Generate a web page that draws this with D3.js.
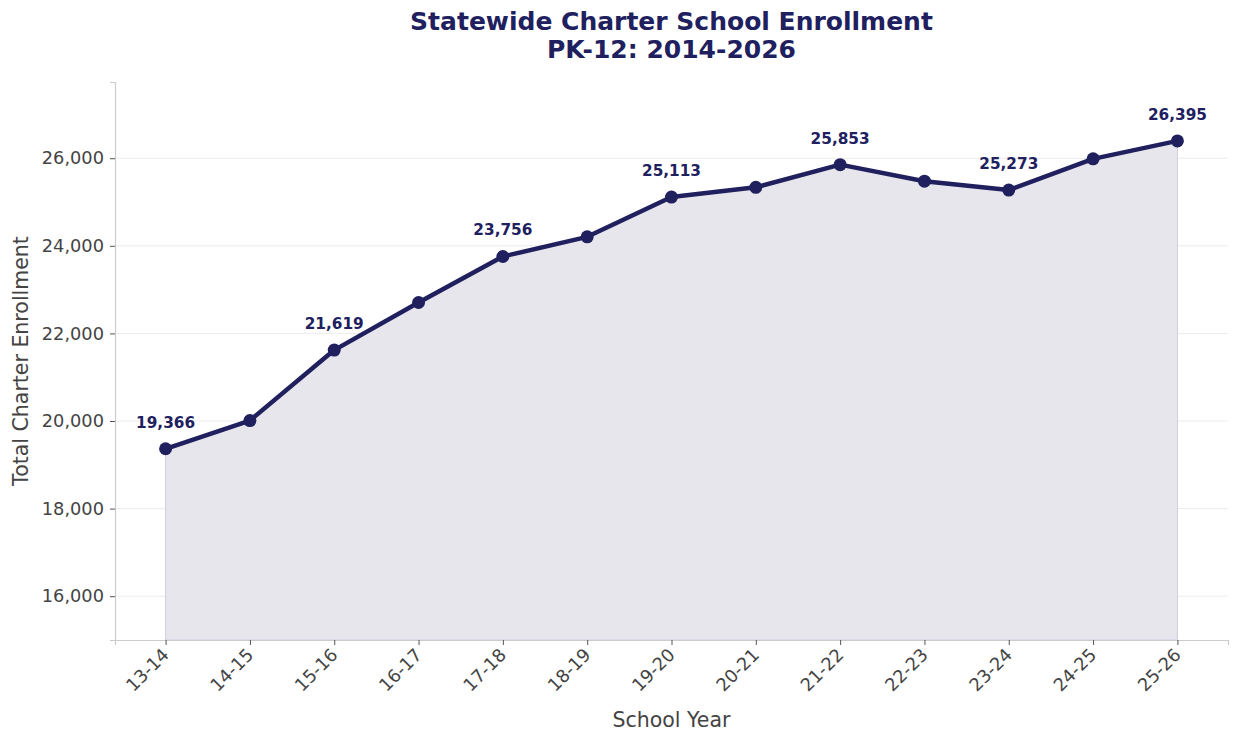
<!DOCTYPE html>
<html>
<head>
<meta charset="utf-8">
<script src="https://cdn.jsdelivr.net/npm/d3@7"></script>
<style>
  body { margin: 0; background: #fff; }
  svg, svg text { font-family: "DejaVu Sans", sans-serif; }
</style>
</head>
<body>
<svg id="chart" width="1233" height="731"></svg>
<script>
/* Chart data */
var years = ["13-14", "14-15", "15-16", "16-17", "17-18", "18-19", "19-20",
             "20-21", "21-22", "22-23", "23-24", "24-25", "25-26"];
var enrollment = [19366, 20010, 21619, 22705, 23756, 24205, 25113,
                  25335, 25853, 25475, 25273, 25985, 26395];
var yTicks = [16000, 18000, 20000, 22000, 24000, 26000];
var labelled = [0, 2, 4, 6, 8, 10, 12];

var navy = "#20205f";
var margin = { left: 115, right: 5, top: 82, bottom: 91 };
var width = 1233, height = 731;

var svg = d3.select("#chart");

var x = d3.scaleLinear()
	.domain([-0.6, years.length - 1 + 0.6])
	.range([margin.left, width - margin.right]);

var y = d3.scaleLinear()
	.domain([15000, 27740])
	.range([height - margin.bottom, margin.top]);

var fmt = d3.format(",");

/* Grid lines */
svg.append("g")
	.selectAll("line")
	.data(yTicks)
	.join("line")
	.attr("x1", x.range()[0])
	.attr("x2", x.range()[1])
	.attr("y1", d => y(d))
	.attr("y2", d => y(d))
	.attr("stroke", "#ececec")
	.attr("stroke-width", 1);

/* Filled area under the line */
var area = d3.area()
	.x((d, i) => x(i))
	.y0(y(15000))
	.y1(d => y(d));

svg.append("path")
	.datum(enrollment)
	.attr("d", area)
	.attr("fill", "#e5e4ea")
	.attr("fill-opacity", 0.92)
	.attr("stroke", "#cfcfe0")
	.attr("stroke-width", 1);

/* Axes */
var yAxis = svg.append("g")
	.attr("transform", "translate(" + margin.left + ",0)")
	.call(d3.axisLeft(y).tickValues(yTicks).tickFormat(fmt).tickSizeOuter(0).tickSize(5).tickPadding(6));

var xAxis = svg.append("g")
	.attr("transform", "translate(0," + (height - margin.bottom) + ")")
	.call(d3.axisBottom(x).tickValues(d3.range(years.length)).tickFormat(i => years[i]).tickSizeOuter(0).tickSize(5));

[yAxis, xAxis].forEach(function(ax) {
	ax.attr("font-family", null).attr("font-size", null);
	ax.select(".domain").attr("stroke", "#cccccc").attr("stroke-width", 1.2);
	ax.selectAll(".tick line").attr("stroke", "#555");
	ax.selectAll(".tick text").attr("fill", "#444").style("font-size", "17.8px");
});

xAxis.selectAll(".tick text")
	.attr("text-anchor", "end")
	.attr("dy", null)
	.attr("y", 0)
	.attr("transform", "translate(4,16) rotate(-45)");

/* Line and points */
var line = d3.line()
	.x((d, i) => x(i))
	.y(d => y(d));

svg.append("path")
	.datum(enrollment)
	.attr("d", line)
	.attr("fill", "none")
	.attr("stroke", navy)
	.attr("stroke-width", 4.5)
	.attr("stroke-linejoin", "round");

svg.append("g")
	.selectAll("circle")
	.data(enrollment)
	.join("circle")
	.attr("cx", (d, i) => x(i))
	.attr("cy", d => y(d))
	.attr("r", 6.5)
	.attr("fill", navy);

/* Value labels on every other point */
svg.append("g")
	.selectAll("text")
	.data(labelled)
	.join("text")
	.attr("x", i => x(i))
	.attr("y", i => y(enrollment[i]) - 21)
	.attr("text-anchor", "middle")
	.attr("fill", navy)
	.style("font-size", "15.3px")
	.style("font-weight", "bold")
	.text(i => fmt(enrollment[i]));

/* Titles */
var cx = (x.range()[0] + x.range()[1]) / 2;

svg.append("text")
	.attr("x", cx).attr("y", 30)
	.attr("text-anchor", "middle")
	.attr("fill", navy)
	.style("font-size", "25px").style("font-weight", "bold")
	.text("Statewide Charter School Enrollment");

svg.append("text")
	.attr("x", cx).attr("y", 58)
	.attr("text-anchor", "middle")
	.attr("fill", navy)
	.style("font-size", "25px").style("font-weight", "bold")
	.text("PK-12: 2014-2026");

svg.append("text")
	.attr("x", cx).attr("y", 727)
	.attr("text-anchor", "middle")
	.attr("fill", "#444")
	.style("font-size", "20.5px")
	.text("School Year");

svg.append("text")
	.attr("transform", "translate(28," + ((margin.top + height - margin.bottom) / 2) + ") rotate(-90)")
	.attr("text-anchor", "middle")
	.attr("fill", "#444")
	.style("font-size", "20.5px")
	.text("Total Charter Enrollment");
</script>
</body>
</html>
